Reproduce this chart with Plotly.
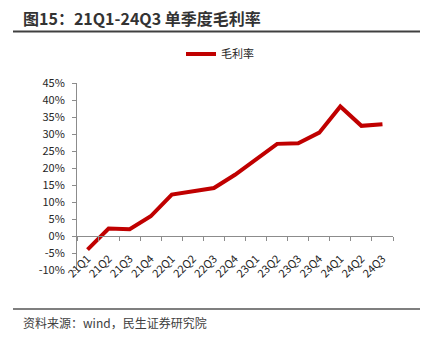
import plotly.graph_objects as go

quarters = ["21Q1", "21Q2", "21Q3", "21Q4", "22Q1", "22Q2", "22Q3", "22Q4",
            "23Q1", "23Q2", "23Q3", "23Q4", "24Q1", "24Q2", "24Q3"]
gross_margin = [-4.0, 2.2, 2.0, 5.8, 12.2, 13.2, 14.1, 18.0,
                22.5, 27.1, 27.3, 30.4, 38.1, 32.4, 32.9]
y_ticks = [-10, -5, 0, 5, 10, 15, 20, 25, 30, 35, 40, 45]
y_ticktext = ["-10%", "-5%", "0%", "5%", "10%", "15%", "20%", "25%", "30%", "35%", "40%", "45%"]

W, H = 431, 340
L, R, T, B = 77, 393, 83, 270  # plot area pixel edges
FONT = "Noto Sans CJK SC, Noto Sans, sans-serif"


def px_x(px):
    return (px - L) / (R - L)


def px_y(py):
    return (B - py) / (B - T)


fig = go.Figure()
fig.add_trace(go.Scatter(
    x=quarters, y=gross_margin, mode="lines", name="毛利率",
    line=dict(color="#C00000", width=4),
))

ymin, ymax = y_ticks[0], y_ticks[-1]

fig.update_layout(
    width=W, height=H,
    margin=dict(l=L, r=W - R, t=T, b=H - B, pad=0),
    paper_bgcolor="white", plot_bgcolor="white",
    font=dict(family=FONT, size=11, color="#262626"),
    showlegend=True,
    legend=dict(orientation="h", x=px_x(181), y=px_y(54), xanchor="left", yanchor="middle",
                font=dict(size=11, color="#262626"), bgcolor="rgba(0,0,0,0)",
                itemwidth=30, tracegroupgap=0),
    xaxis=dict(
        type="category", range=[-0.5, len(quarters) - 0.5],
        anchor="free", position=(0 - ymin) / (ymax - ymin),
        showline=True, linecolor="#8c8c8c", linewidth=1,
        ticks="outside", ticklen=4, tickcolor="#8c8c8c", tickson="boundaries",
        tickangle=-45, showgrid=False, zeroline=False, ticklabelstandoff=11,
        tickfont=dict(size=11, color="#262626"),
    ),
    yaxis=dict(
        range=[ymin, ymax], tickvals=y_ticks, ticktext=y_ticktext,
        showline=True, linecolor="#8c8c8c", linewidth=1,
        ticks="outside", ticklen=4, tickcolor="#8c8c8c", ticklabelstandoff=5,
        showgrid=False, zeroline=False,
        tickfont=dict(size=11, color="#262626"),
    ),
)

# title and footer
fig.add_annotation(text="<b>图15：21Q1-24Q3 单季度毛利率</b>", xref="paper", yref="paper",
                   x=px_x(21), y=px_y(18), xanchor="left", yanchor="middle", showarrow=False,
                   font=dict(size=16, color="#333333", family=FONT))
fig.add_shape(type="line", xref="paper", yref="paper", x0=px_x(13), x1=px_x(420),
              y0=px_y(31.5), y1=px_y(31.5), line=dict(color="#404040", width=2))
fig.add_shape(type="line", xref="paper", yref="paper", x0=px_x(13), x1=px_x(420),
              y0=px_y(309), y1=px_y(309), line=dict(color="#7f7f7f", width=2))
fig.add_annotation(text="资料来源：wind，民生证券研究院", xref="paper", yref="paper",
                   x=px_x(21), y=px_y(322), xanchor="left", yanchor="middle", showarrow=False,
                   font=dict(size=12, color="#404040", family=FONT))

fig.write_html("out.html")
